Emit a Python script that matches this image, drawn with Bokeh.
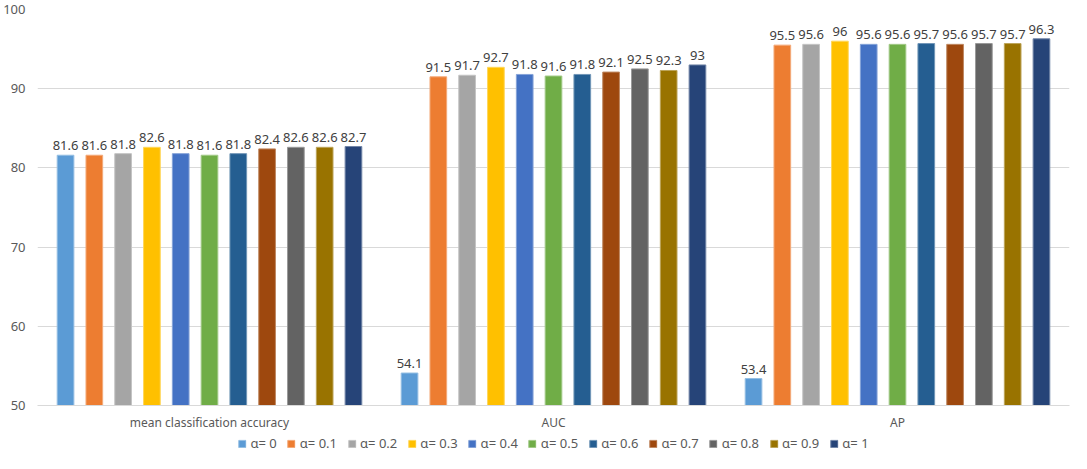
from bokeh.plotting import figure
from bokeh.models import ColumnDataSource, FactorRange, Legend, LegendItem, Range1d
from bokeh.layouts import column
from bokeh.transform import dodge
from bokeh.core.properties import value
from bokeh.embed import file_html
from bokeh.resources import INLINE

categories = ["mean classification accuracy", "AUC", "AP"]
series_labels = ["α= 0", "α= 0.1", "α= 0.2", "α= 0.3", "α= 0.4", "α= 0.5",
                 "α= 0.6", "α= 0.7", "α= 0.8", "α= 0.9", "α= 1"]
a00 = [81.6, 54.1, 53.4]
a01 = [81.6, 91.5, 95.5]
a02 = [81.8, 91.7, 95.6]
a03 = [82.6, 92.7, 96.0]
a04 = [81.8, 91.8, 95.6]
a05 = [81.6, 91.6, 95.6]
a06 = [81.8, 91.8, 95.7]
a07 = [82.4, 92.1, 95.6]
a08 = [82.6, 92.5, 95.7]
a09 = [82.6, 92.3, 95.7]
a10 = [82.7, 93.0, 96.3]
series_values = [a00, a01, a02, a03, a04, a05, a06, a07, a08, a09, a10]
colors = ["#5B9BD5", "#ED7D31", "#A5A5A5", "#FFC000", "#4472C4", "#70AD47",
          "#255E91", "#9E480E", "#636363", "#997300", "#264478"]

def lighten(hx, f=0.3):
    r, g, b = int(hx[1:3], 16), int(hx[3:5], 16), int(hx[5:7], 16)
    r = int(r + (255 - r) * f); g = int(g + (255 - g) * f); b = int(b + (255 - b) * f)
    return "#%02x%02x%02x" % (r, g, b)

FONT = "Noto Sans"
TXT = "#595959"
LBL = "#404040"

p = figure(x_range=FactorRange(*categories), y_range=(50, 100),
           width=1071, height=433, output_backend="svg", toolbar_location=None,
           min_border_left=26, min_border_right=2, min_border_top=9,
           min_border_bottom=24)

step = 0.0837
bw = 0.0485
for i, (lab, vals, col) in enumerate(zip(series_labels, series_values, colors)):
    src = ColumnDataSource(dict(cat=categories, v=vals,
                                t=[("%g" % x) for x in vals]))
    off = (i - 5) * step
    p.vbar(x=dodge("cat", off, range=p.x_range), top="v", bottom=50, width=bw,
           source=src, fill_color=col, line_color=lighten(col, 0.35), line_width=1)
    p.text(x=dodge("cat", off, range=p.x_range), y="v", text="t", source=src,
           text_align="center", text_baseline="bottom", y_offset=-5,
           text_font=value(FONT), text_font_size="13px", text_color=LBL)

p.outline_line_color = None
p.xgrid.grid_line_color = None
p.ygrid.grid_line_color = "#D9D9D9"
p.ygrid.grid_line_width = 1
p.yaxis.ticker = [50, 60, 70, 80, 90, 100]
p.yaxis.axis_line_color = None
p.yaxis.major_tick_line_color = None
p.yaxis.minor_tick_line_color = None
p.yaxis.major_label_text_font = FONT
p.yaxis.major_label_text_font_size = "13px"
p.yaxis.major_label_text_color = TXT
p.yaxis.major_label_standoff = 6
p.xaxis.axis_line_color = "#D9D9D9"
p.xaxis.major_tick_line_color = None
p.xaxis.minor_tick_line_color = None
p.xaxis.major_tick_out = 0
p.xaxis.major_tick_in = 0
p.xaxis.major_label_text_font = FONT
p.xaxis.major_label_text_font_size = "12px"
p.xaxis.major_label_text_color = TXT
p.xaxis.major_label_standoff = 8

# legend strip below the chart
lg = figure(width=1071, height=20, output_backend="svg", toolbar_location=None,
            x_range=Range1d(0, 1), y_range=Range1d(0, 1),
            min_border=0, min_border_left=0, min_border_right=0,
            min_border_top=0, min_border_bottom=0)
lg.axis.visible = False
lg.grid.visible = False
lg.outline_line_color = None
items = []
for lab, col in zip(series_labels, colors):
    r = lg.vbar(x=[-5], top=[-5], bottom=-6, width=0.1, fill_color=col,
                line_color=lighten(col, 0.35), line_width=1)
    items.append(LegendItem(label=lab, renderers=[r]))
legend = Legend(items=items, orientation="horizontal", location="center",
                glyph_width=9, glyph_height=9, label_height=13, label_standoff=4,
                spacing=10, padding=0, margin=0, border_line_color=None,
                background_fill_alpha=0,
                label_text_font=FONT, label_text_font_size="13px",
                label_text_color=TXT)
lg.add_layout(legend, "center")

layout = column(p, lg, spacing=0)
open("out.html", "w").write(file_html(layout, INLINE))
